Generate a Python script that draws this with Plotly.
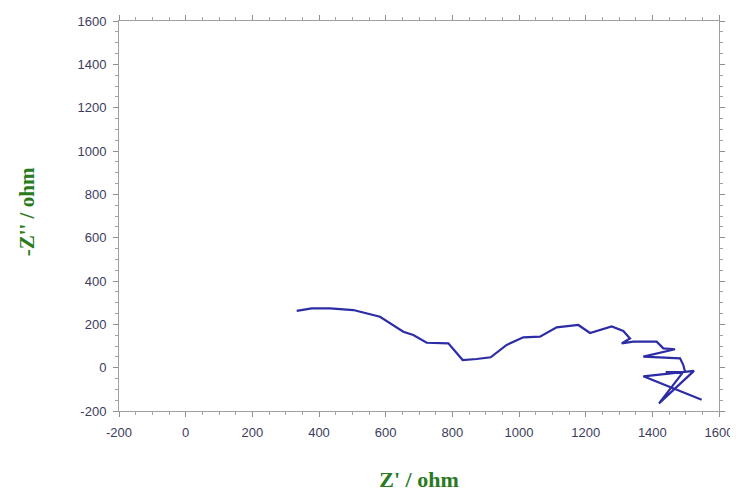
import plotly.graph_objects as go

z_real = [333, 378, 433, 503, 583, 653, 683, 723, 788, 831, 873, 915, 963, 1013, 1063,
          1113, 1178, 1213, 1278, 1313, 1333, 1308, 1343, 1413, 1433, 1468, 1373, 1483,
          1493, 1498, 1440, 1490, 1420, 1525, 1373, 1548]
z_imag = [262, 274, 274, 266, 235, 166, 151, 115, 112, 35, 40, 48, 105, 140, 143,
          186, 197, 160, 190, 169, 135, 112, 120, 120, 89, 85, 51, 43,
          12, -19, -20, -25, -165, -15, -40, -148]

x_ticks = [-200, 0, 200, 400, 600, 800, 1000, 1200, 1400, 1600]
y_ticks = [-200, 0, 200, 400, 600, 800, 1000, 1200, 1400, 1600]

fig = go.Figure()
fig.add_trace(go.Scatter(x=z_real, y=z_imag, mode="lines",
                         line=dict(color="#2c2ca6", width=2.2), showlegend=False))

axis_common = dict(
    showline=True, linecolor="#a0a0a0", linewidth=1, mirror="ticks",
    showgrid=False, zeroline=False, automargin=False,
    ticks="outside", ticklen=5, tickcolor="#909090", ticklabelstandoff=4,
    tickfont=dict(family="Liberation Sans, Arial", size=13, color="#3c3c5c"),
    minor=dict(ticks="outside", ticklen=3, tickcolor="#a0a0a0", dtick=50, showgrid=False),
)

title_font = dict(family="Liberation Serif, Times New Roman", size=21, color="#2a7a1e")
fig.update_xaxes(range=[-200, 1600], tickvals=x_ticks, ticktext=[str(v) for v in x_ticks],
                 title=dict(text="<b>Z' / ohm</b>", standoff=39,
                            font=dict(title_font, size=22)),
                 **axis_common)
fig.update_yaxes(range=[-200, 1600], tickvals=y_ticks, ticktext=[str(v) for v in y_ticks],
                 **axis_common)

fig.add_annotation(text="<b>-Z'' / ohm</b>", xref="paper", yref="paper",
                   x=-0.153, y=0.51, xanchor="center", yanchor="middle",
                   textangle=-90, showarrow=False, font=title_font)

fig.update_layout(
    width=730, height=484,
    margin=dict(l=111, r=19, t=13, b=81),
    plot_bgcolor="white", paper_bgcolor="white",
)

fig.write_html("out.html")
